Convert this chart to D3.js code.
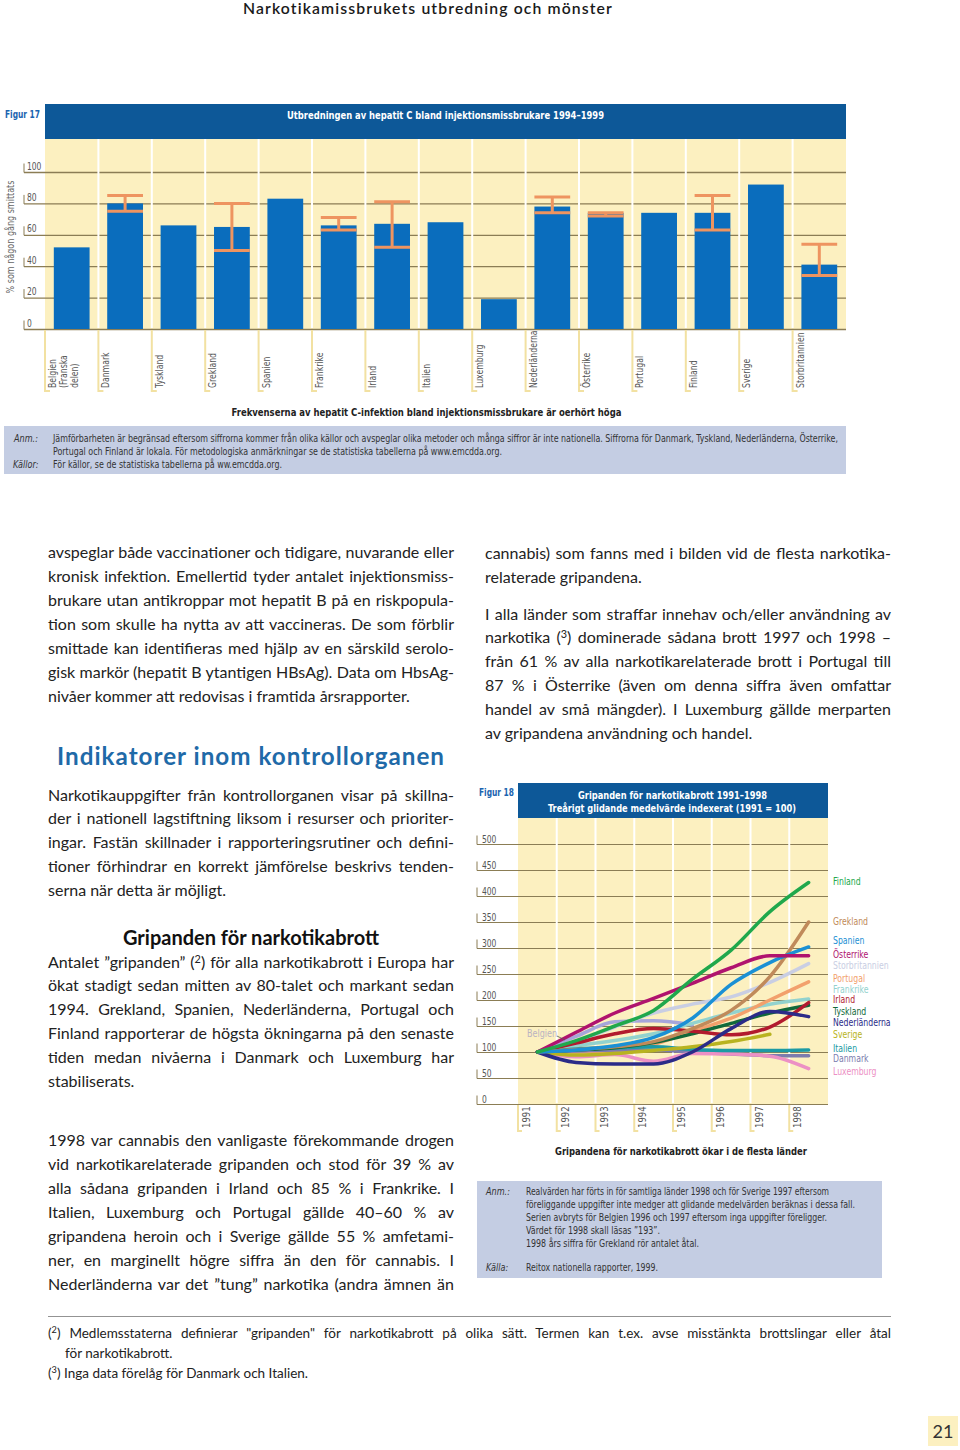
<!DOCTYPE html>
<html><head><meta charset="utf-8">
<script src="https://cdn.jsdelivr.net/npm/d3@7"></script>
<style>
body{margin:0;background:#fff;}
svg{display:block;}
</style></head><body>
<svg id="page" width="960" height="1450"></svg>
<script>
// ---------------- Figure 17 data ----------------
const fig17Categories = ["Belgien\n(Franska\ndelen)","Danmark","Tyskland","Grekland","Spanien","Frankrike","Irland","Italien","Luxemburg","Nederländerna","Österrike","Portugal","Finland","Sverige","Storbritannien"];
const fig17Values = [52, 80, 66, 65, 83, 66, 67, 68, 19, 78, 74, 74, 74, 92, 41];
const fig17Low  = [null, 75, null, 50, null, 63, 52, null, null, 74, 72, null, 63, null, 34];
const fig17High = [null, 85, null, 80, null, 71, 81, null, null, 84, 74, null, 85, null, 54];
const fig17Ticks = [0, 20, 40, 60, 80, 100];

// ---------------- Figure 18 data ----------------
const fig18Years = [1991, 1992, 1993, 1994, 1995, 1996, 1997, 1998];
const fig18Ticks = [0, 50, 100, 150, 200, 250, 300, 350, 400, 450, 500];
const fig18Countries = ["Belgien","Storbritannien","Frankrike","Portugal","Danmark","Luxemburg","Italien","Sverige","Tyskland","Irland","Nederländerna","Grekland","Spanien","Österrike","Finland"];
const fig18Colors = ["#a6a6da","#c9cee3","#92d2ce","#f2a06c","#7c7cae","#ec90c4","#1c9aa4","#b8b320","#11693a","#b21a2e","#2b2b88","#c08a5a","#1b90d4","#b0136e","#20a84c"];
const vBelgien = [100, 130, 158, 160, 152, null, null, null];
const vStorbritannien = [100, 120, 148, 175, 192, 206, 234, 270];
const vFrankrike = [100, 112, 122, 135, 155, 175, 192, 202];
const vPortugal = [100, 100, 103, 115, 140, 165, 200, 235];
const vDanmark = [100, 102, 104, 104, 100, 96, 93, 93];
const vLuxemburg = [100, 91, 95, 82, 97, 96, 92, 68];
const vItalien = [100, 106, 108, 110, 105, 103, 103, 104];
const vSverige = [100, 94, 97, 103, 110, 120, 134, null];
const vTyskland = [100, 104, 108, 118, 135, 155, 175, 190];
const vIrland = [100, 117, 135, 145, 140, 133, 148, 195];
const vNederlanderna = [100, 80, 77, 77, 100, 145, 178, 168];
const vGrekland = [100, 105, 110, 120, 145, 180, 245, 350];
const vSpanien = [100, 104, 112, 128, 165, 230, 272, 302];
const vOsterrike = [100, 138, 175, 203, 232, 262, 285, 285];
const vFinland = [100, 122, 150, 180, 240, 296, 370, 426];
const fig18Values = [vBelgien, vStorbritannien, vFrankrike, vPortugal, vDanmark, vLuxemburg, vItalien, vSverige, vTyskland, vIrland, vNederlanderna, vGrekland, vSpanien, vOsterrike, vFinland];
const legendOrder = ["Finland","Grekland","Spanien","Österrike","Storbritannien","Portugal","Frankrike","Irland","Tyskland","Nederländerna","Sverige","Italien","Danmark","Luxemburg"];
const legendY = [881, 921.5, 940, 954, 965.5, 978, 989.5, 999.5, 1011, 1022, 1034, 1048, 1058.5, 1071];

// ---------------- Text content ----------------
const pageTitle = "Narkotikamissbrukets utbredning och mönster";
const fig17Title = "Utbredningen av hepatit C bland injektionsmissbrukare 1994–1999";
const fig17Sub = "Frekvenserna av hepatit C-infektion bland injektionsmissbrukare är oerhört höga";
const fig17Notes = ["Jämförbarheten är begränsad eftersom siffrorna kommer från olika källor och avspeglar olika metoder och många siffror är inte nationella. Siffrorna för Danmark, Tyskland, Nederländerna, Österrike,",
  "Portugal och Finland är lokala. För metodologiska anmärkningar se de statistiska tabellerna på www.emcdda.org.",
  "För källor, se de statistiska tabellerna på ww.emcdda.org."];
const fig18Title = ["Gripanden för narkotikabrott 1991–1998", "Treårigt glidande medelvärde indexerat (1991 = 100)"];
const fig18Sub = "Gripandena för narkotikabrott ökar i de flesta länder";
const fig18Notes = ["Realvärden har förts in för samtliga länder 1998 och för Sverige 1997 eftersom",
  "föreliggande uppgifter inte medger att glidande medelvärden beräknas i dessa fall.",
  "Serien avbryts för Belgien 1996 och 1997 eftersom inga uppgifter föreligger.",
  "Värdet för 1998 skall läsas ”193”.",
  "1998 års siffra för Grekland rör antalet åtal."];
const fig18Source = "Reitox nationella rapporter, 1999.";

const leftPara1 = ["avspeglar både vaccinationer och tidigare, nuvarande eller","kronisk infektion. Emellertid tyder antalet injektionsmiss-","brukare utan antikroppar mot hepatit B på en riskpopula-","tion som skulle ha nytta av att vaccineras. De som förblir","smittade kan identifieras med hjälp av en särskild serolo-","gisk markör (hepatit B ytantigen HBsAg). Data om HbsAg-","nivåer kommer att redovisas i framtida årsrapporter."];
const heading1 = "Indikatorer inom kontrollorganen";
const leftPara2 = ["Narkotikauppgifter från kontrollorganen visar på skillna-","der i nationell lagstiftning liksom i resurser och prioriter-","ingar. Fastän skillnader i rapporteringsrutiner och defini-","tioner förhindrar en korrekt jämförelse beskrivs tenden-","serna när detta är möjligt."];
const heading2 = "Gripanden för narkotikabrott";
const leftPara3 = ["Antalet ”gripanden” (^2) för alla narkotikabrott i Europa har","ökat stadigt sedan mitten av 80-talet och markant sedan","1994. Grekland, Spanien, Nederländerna, Portugal och","Finland rapporterar de högsta ökningarna på den senaste","tiden medan nivåerna i Danmark och Luxemburg har","stabiliserats."];
const leftPara4 = ["1998 var cannabis den vanligaste förekommande drogen","vid narkotikarelaterade gripanden och stod för 39 % av","alla sådana gripanden i Irland och 85 % i Frankrike. I","Italien, Luxemburg och Portugal gällde 40–60 % av","gripandena heroin och i Sverige gällde 55 % amfetami-","ner, en marginellt högre siffra än den för cannabis. I","Nederländerna var det ”tung” narkotika (andra ämnen än"];
const rightPara1 = ["cannabis) som fanns med i bilden vid de flesta narkotika-","relaterade gripandena."];
const rightPara2 = ["I alla länder som straffar innehav och/eller användning av","narkotika (^3) dominerade sådana brott 1997 och 1998 –","från 61 % av alla narkotikarelaterade brott i Portugal till","87 % i Österrike (även om denna siffra även omfattar","handel av små mängder). I Luxemburg gällde merparten","av gripandena användning och handel."];
const footnotes = ["(^2) Medlemsstaterna definierar \"gripanden\" för narkotikabrott på olika sätt. Termen kan t.ex. avse misstänkta brottslingar eller åtal","för narkotikabrott.","(^3) Inga data förelåg för Danmark och Italien."];

// ---------------- Styles ----------------
const NARROW = "'Liberation Sans Narrow','Arial Narrow','DejaVu Sans Condensed',sans-serif";
const BODY = "Lato,'Open Sans',sans-serif";
const C = {head:"#0d5898", bar:"#0a6dbd", err:"#ee9460", yellow:"#fcf0c0", grid:"#8b7d55", note:"#c4cde3", figLbl:"#1a64b0", bracket:"#f2e1a2", txt:"#333"};

const svg = d3.select("#page");

function squeeze(t, factor) {
  const len = t.node().getComputedTextLength();
  t.attr("textLength", len * factor).attr("lengthAdjust", "spacingAndGlyphs");
}
function addText(g, o) {
  const size = o.size || 16;
  const t = g.append("text")
    .attr("x", o.x).attr("y", o.y)
    .attr("font-family", o.family || BODY)
    .attr("font-size", size)
    .attr("font-weight", o.weight || "normal")
    .attr("font-style", o.style || "normal")
    .attr("fill", o.fill || "#222")
    .attr("text-anchor", o.anchor || "start");
  if (o.ls) t.attr("letter-spacing", o.ls);
  const parts = o.str.split(/\^(\d)/);
  let raised = false;
  parts.forEach((p, i) => {
    if (i % 2 === 0) {
      if (p.length) {
        const ts = t.append("tspan").text(p);
        if (raised) { ts.attr("dy", 5); raised = false; }
      }
    } else {
      t.append("tspan").attr("font-size", size * 0.68).attr("dy", -5).text(p);
      raised = true;
    }
  });
  if (o.sq) squeeze(t, o.sq);
  if (o.width) {
    const len = t.node().getComputedTextLength();
    const spaces = (o.str.match(/ /g) || []).length;
    if (o.fit) {
      t.attr("textLength", o.width).attr("lengthAdjust", "spacingAndGlyphs");
    } else if (o.justify && spaces > 0 && len <= o.width) {
      t.attr("word-spacing", (o.width - len) / spaces);
    } else if (len > o.width) {
      t.attr("textLength", o.width).attr("lengthAdjust", "spacingAndGlyphs");
    }
  }
  return t;
}
function paragraph(lines, x, y0, step, width, lastJustify) {
  lines.forEach((l, i) => addText(svg, {x, y: y0 + i * step, str: l, width, justify: (i < lines.length - 1) || lastJustify}));
}

// ---------------- Page title ----------------
addText(svg, {x: 243, y: 14, str: pageTitle, size: 15.5, ls: 1.1, fill: "#1a1a1a", weight: 600, width: 370, fit: true});

// ================= FIGURE 17 =================
const f17 = svg.append("g");
const x17 = d3.scaleBand().domain(fig17Categories).range([45, 846]).paddingInner(0.33).paddingOuter(0.165);
const y17 = d3.scaleLinear().domain([0, 100]).range([329, 172]);
const step17 = x17.step();
const left17 = c => x17(c) - step17 * 0.165;

addText(f17, {x: 5, y: 117.5, str: "Figur 17", family: NARROW, size: 10.5, weight: "bold", fill: C.figLbl, width: 35, fit: true});
f17.append("rect").attr("x", 45).attr("y", 104).attr("width", 801).attr("height", 35).attr("fill", C.head);
addText(f17, {x: 287, y: 119, str: fig17Title, family: NARROW, size: 11, weight: "bold", fill: "#fff", width: 317, fit: true});
f17.append("rect").attr("x", 45).attr("y", 139).attr("width", 801).attr("height", 190).attr("fill", C.yellow);

// y axis with grid
const ax17 = d3.axisRight(y17).tickValues(fig17Ticks).tickSize(846 - 24);
const gAx17 = f17.append("g").attr("transform", "translate(24,0)").call(ax17);
gAx17.select(".domain").remove();
gAx17.selectAll(".tick line").attr("stroke", C.grid).attr("stroke-width", 1.3);
gAx17.selectAll(".tick text").attr("x", 3).attr("y", -3).attr("dy", null)
  .attr("font-family", NARROW).attr("font-size", 10.5).attr("fill", "#555").attr("text-anchor", "start")
  .each(function () { squeeze(d3.select(this), 0.8); });
gAx17.selectAll(".tick").append("line").attr("x1", 0).attr("x2", 0).attr("y1", -9).attr("y2", 0).attr("stroke", C.grid).attr("stroke-width", 1);

// white separators
f17.append("g").selectAll("line").data(fig17Categories.slice(1)).join("line")
  .attr("x1", d => left17(d)).attr("x2", d => left17(d)).attr("y1", 139).attr("y2", 328)
  .attr("stroke", "#fff").attr("stroke-width", 2);

// bars
f17.append("g").selectAll("rect").data(fig17Categories).join("rect")
  .attr("x", d => x17(d)).attr("width", x17.bandwidth())
  .attr("y", (d, i) => y17(fig17Values[i])).attr("height", (d, i) => y17(0) - y17(fig17Values[i]))
  .attr("fill", C.bar);

// error bars
const errIdx = fig17Categories.map((c, i) => i).filter(i => fig17Low[i] != null);
const gErr = f17.append("g").attr("stroke", C.err).attr("stroke-width", 3).attr("fill", "none");
errIdx.forEach(i => {
  const c = fig17Categories[i], cx = x17(c) + x17.bandwidth() / 2, bw = x17.bandwidth();
  gErr.append("line").attr("x1", cx).attr("x2", cx).attr("y1", y17(fig17High[i])).attr("y2", y17(fig17Low[i]));
  [fig17High[i], fig17Low[i]].forEach(v => gErr.append("line").attr("x1", x17(c)).attr("x2", x17(c) + bw).attr("y1", y17(v)).attr("y2", y17(v)));
});

// y title
addText(f17, {x: 0, y: 0, str: "% som någon gång smittats", family: NARROW, size: 10.5, fill: "#666", anchor: "middle", sq: 0.85})
  .attr("transform", "translate(14,237) rotate(-90)");

// category brackets and labels
const gLab17 = f17.append("g");
fig17Categories.forEach(c => {
  const lx = left17(c);
  gLab17.append("path").attr("d", `M${lx},330V391H${lx + 5}`).attr("fill", "none").attr("stroke", C.bracket).attr("stroke-width", 2);
  c.split("\n").forEach((line, j) => {
    addText(gLab17, {x: 0, y: 0, str: line, family: NARROW, size: 10.5, fill: "#555", sq: 0.82})
      .attr("transform", `translate(${lx + 11 + j * 11},388) rotate(-90)`);
  });
});

addText(f17, {x: 231.5, y: 415.5, str: fig17Sub, family: NARROW, size: 11, weight: "bold", fill: "#222", width: 390, fit: true});

// notes
f17.append("rect").attr("x", 4).attr("y", 426).attr("width", 842).attr("height", 48).attr("fill", C.note);
addText(f17, {x: 14, y: 441.5, str: "Anm.:", family: NARROW, size: 10, style: "italic", fill: C.txt, sq: 0.9});
addText(f17, {x: 13, y: 467.5, str: "Källor:", family: NARROW, size: 10, style: "italic", fill: C.txt, sq: 0.9});
const n17w = [785, 449, 229];
fig17Notes.forEach((s, i) => addText(f17, {x: 53, y: 441.5 + i * 13, str: s, family: NARROW, size: 10, fill: C.txt, width: n17w[i], fit: true}));

// ================= Body text =================
paragraph(leftPara1, 48, 557.5, 24, 406);
addText(svg, {x: 57, y: 765, str: heading1, size: 24, weight: "bold", fill: "#1f6aa8", ls: 1, width: 388, fit: true});
paragraph(leftPara2, 48, 800.5, 23.8, 406);
addText(svg, {x: 123, y: 944.5, str: heading2, size: 20, weight: "bold", fill: "#111", width: 256, fit: true});
paragraph(leftPara3, 48, 967.5, 23.8, 406);
paragraph(leftPara4, 48, 1145.5, 24, 406, true);
paragraph(rightPara1, 485, 558.5, 24, 406);
paragraph(rightPara2, 485, 619.5, 23.8, 406);

// ================= FIGURE 18 =================
const f18 = svg.append("g");
const x18 = d3.scalePoint().domain(fig18Years).range([518, 828]).padding(0.5);
const y18 = d3.scaleLinear().domain([0, 500]).range([1104, 844]);
const step18 = x18.step();
const left18 = yr => x18(yr) - step18 / 2;

addText(f18, {x: 479, y: 796, str: "Figur 18", family: NARROW, size: 10.5, weight: "bold", fill: C.figLbl, width: 35, fit: true});
f18.append("rect").attr("x", 518).attr("y", 783).attr("width", 310).attr("height", 35).attr("fill", C.head);
addText(f18, {x: 578, y: 798.5, str: fig18Title[0], family: NARROW, size: 11, weight: "bold", fill: "#fff", width: 189, fit: true});
addText(f18, {x: 548, y: 812, str: fig18Title[1], family: NARROW, size: 11, weight: "bold", fill: "#fff", width: 248, fit: true});
f18.append("rect").attr("x", 518).attr("y", 818).attr("width", 310).attr("height", 286).attr("fill", C.yellow);

const ax18 = d3.axisRight(y18).tickValues(fig18Ticks).tickSize(828 - 477);
const gAx18 = f18.append("g").attr("transform", "translate(477,0)").call(ax18);
gAx18.select(".domain").remove();
gAx18.selectAll(".tick line").attr("stroke", C.grid).attr("stroke-width", 1.2);
gAx18.selectAll(".tick text").attr("x", 5).attr("y", -2).attr("dy", null)
  .attr("font-family", NARROW).attr("font-size", 10.5).attr("fill", "#555").attr("text-anchor", "start")
  .each(function () { squeeze(d3.select(this), 0.8); });
gAx18.selectAll(".tick").append("line").attr("x1", 0).attr("x2", 0).attr("y1", -9).attr("y2", 0).attr("stroke", C.grid).attr("stroke-width", 1);

f18.append("g").selectAll("line").data(fig18Years.slice(1)).join("line")
  .attr("x1", d => left18(d)).attr("x2", d => left18(d)).attr("y1", 818).attr("y2", 1103)
  .attr("stroke", "#fff").attr("stroke-width", 2);

const line18 = d3.line().defined(d => d != null).x((d, i) => x18(fig18Years[i])).y(d => y18(d)).curve(d3.curveMonotoneX);
f18.append("g").selectAll("path").data(fig18Values).join("path")
  .attr("d", d => line18(d)).attr("fill", "none")
  .attr("stroke", (d, i) => fig18Colors[i]).attr("stroke-width", 3.5)
  .attr("stroke-linecap", "round").attr("stroke-linejoin", "round");

// Belgien label
addText(f18, {x: 527, y: 1037, str: "Belgien", family: NARROW, size: 10.5, fill: "#b9b3c2", sq: 0.85});
f18.append("line").attr("x1", 557).attr("y1", 1036).attr("x2", 565).attr("y2", 1040).attr("stroke", "#555").attr("stroke-width", 0.8);

// legend
legendOrder.forEach((name, i) => {
  const col = fig18Colors[fig18Countries.indexOf(name)];
  addText(f18, {x: 833, y: legendY[i] + 3.6, str: name, family: NARROW, size: 10.5, fill: col, sq: 0.82});
});

// year brackets + labels
fig18Years.forEach(yr => {
  const lx = left18(yr);
  f18.append("path").attr("d", `M${lx},1105V1131H${lx + 4}`).attr("fill", "none").attr("stroke", C.bracket).attr("stroke-width", 2);
  addText(f18, {x: 0, y: 0, str: String(yr), family: NARROW, size: 10.5, fill: "#555", sq: 0.9})
    .attr("transform", `translate(${lx + 12},1128) rotate(-90)`);
});

addText(f18, {x: 555, y: 1154.5, str: fig18Sub, family: NARROW, size: 11, weight: "bold", fill: "#222", width: 252, fit: true});

f18.append("rect").attr("x", 477).attr("y", 1181).attr("width", 405).attr("height", 97).attr("fill", C.note);
addText(f18, {x: 486, y: 1194.5, str: "Anm.:", family: NARROW, size: 10, style: "italic", fill: C.txt, sq: 0.9});
addText(f18, {x: 486, y: 1270.5, str: "Källa:", family: NARROW, size: 10, style: "italic", fill: C.txt, sq: 0.9});
const n18y = [1194.5, 1208, 1221, 1234, 1246.5];
const n18w = [303, 329, 301, 134, 173];
fig18Notes.forEach((s, i) => addText(f18, {x: 526, y: n18y[i], str: s, family: NARROW, size: 10, fill: C.txt, width: n18w[i], fit: true}));
addText(f18, {x: 526, y: 1270.5, str: fig18Source, family: NARROW, size: 10, fill: C.txt, width: 132, fit: true});

// ================= Footnotes =================
svg.append("line").attr("x1", 48).attr("x2", 891).attr("y1", 1316.5).attr("y2", 1316.5).attr("stroke", "#777").attr("stroke-width", 0.8);
addText(svg, {x: 48, y: 1337.5, str: footnotes[0], size: 13.5, width: 843, justify: true});
addText(svg, {x: 65, y: 1357.5, str: footnotes[1], size: 13.5});
addText(svg, {x: 48, y: 1377.5, str: footnotes[2], size: 13.5});

// page number
svg.append("rect").attr("x", 928).attr("y", 1416).attr("width", 30).attr("height", 30).attr("fill", C.yellow);
addText(svg, {x: 943, y: 1438, str: "21", size: 18, anchor: "middle", fill: "#333"});
</script>
</body></html>
